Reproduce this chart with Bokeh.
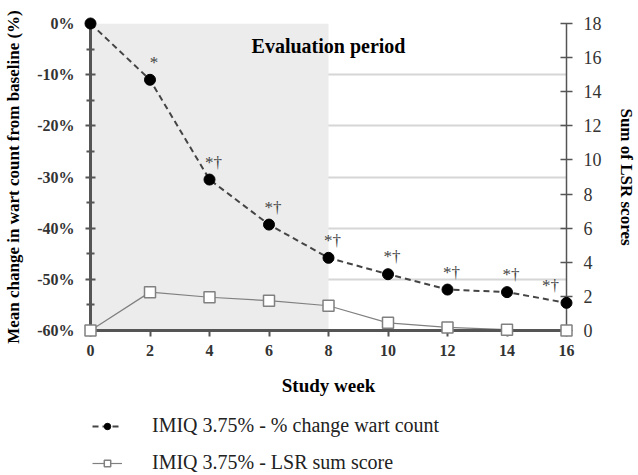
from bokeh.plotting import figure
from bokeh.layouts import column
from bokeh.models import (ColumnDataSource, Range1d, LinearAxis, BoxAnnotation, Legend,
                          LegendItem, FixedTicker, Label, PrintfTickFormatter)
from bokeh.core.properties import value
from bokeh.embed import file_html
from bokeh.resources import INLINE

# ---- data ----
weeks = [0, 2, 4, 6, 8, 10, 12, 14, 16]
wart_change_pct = [0.0, -11.0, -30.5, -39.3, -45.8, -49.0, -52.0, -52.5, -54.6]
lsr_sum_score = [0.0, 2.25, 1.95, 1.75, 1.45, 0.45, 0.18, 0.05, 0.0]
significance = ["", "*", "*\u2020", "*\u2020", "*\u2020", "*\u2020", "*\u2020", "*\u2020", "*\u2020"]
evaluation_period = [0, 8]
left_ticks = [-60, -50, -40, -30, -20, -10, 0]
left_minor = [-55, -45, -35, -25, -15, -5]
right_ticks = [0, 2, 4, 6, 8, 10, 12, 14, 16, 18]
x_ticks = [0, 2, 4, 6, 8, 10, 12, 14, 16]
series_labels = ["IMIQ 3.75% - % change wart count", "IMIQ 3.75% - LSR sum score"]

SERIF = "Liberation Serif"
W = 638
MAIN_H = 406
LEG_H = 68

p = figure(width=W, height=MAIN_H, output_backend="svg", toolbar_location=None,
           x_range=Range1d(0, 16), y_range=Range1d(-60, 0),
           min_border_left=90, min_border_right=W - 567, min_border_top=23,
           min_border_bottom=MAIN_H - 330,
           background_fill_color="white", border_fill_color="white", outline_line_color=None)
p.extra_y_ranges = {"lsr": Range1d(0, 18)}

# shaded evaluation period
p.add_layout(BoxAnnotation(left=evaluation_period[0], right=evaluation_period[1],
                           fill_color="#ececec", fill_alpha=1.0, line_color=None, level="underlay"))

# grids
p.xgrid.visible = False
p.ygrid.ticker = FixedTicker(ticks=left_ticks)
p.ygrid.grid_line_color = "#d6d6d6"
p.ygrid.grid_line_width = 2

# left axis
ya = p.yaxis[0]
ya.ticker = FixedTicker(ticks=left_ticks, minor_ticks=left_minor)
ya.formatter = PrintfTickFormatter(format="%d%%")
ya.axis_label = "Mean change in wart count from baseline (%)"
ya.axis_label_text_font = SERIF
ya.axis_label_text_font_style = "bold"
ya.axis_label_text_font_size = "17px"
ya.axis_label_text_color = "black"
ya.axis_label_standoff = 11
ya.major_label_text_font = SERIF
ya.major_label_text_font_style = "bold"
ya.major_label_text_font_size = "16px"
ya.major_label_text_color = "#333333"
ya.axis_line_width = 3
ya.axis_line_color = "#555555"
ya.major_tick_in = 5
ya.major_tick_out = 5
ya.minor_tick_in = 4
ya.minor_tick_out = 4
ya.major_tick_line_width = 2
ya.minor_tick_line_width = 2
ya.major_tick_line_color = "#555555"
ya.minor_tick_line_color = "#555555"
ya.major_label_standoff = 11

# bottom axis
xa = p.xaxis[0]
xa.ticker = FixedTicker(ticks=x_ticks)
xa.axis_label = "Study week"
xa.axis_label_text_font = SERIF
xa.axis_label_text_font_style = "bold"
xa.axis_label_text_font_size = "19px"
xa.axis_label_text_color = "black"
xa.axis_label_standoff = 16
xa.major_label_text_font = SERIF
xa.major_label_text_font_style = "bold"
xa.major_label_text_font_size = "16px"
xa.major_label_text_color = "#333333"
xa.axis_line_width = 3
xa.axis_line_color = "#555555"
xa.major_tick_in = 0
xa.major_tick_out = 6
xa.major_tick_line_width = 2
xa.major_tick_line_color = "#555555"
xa.minor_tick_line_color = None
xa.major_label_standoff = 8

# right axis
ra = LinearAxis(y_range_name="lsr", ticker=FixedTicker(ticks=right_ticks))
ra.axis_label = "Sum of LSR scores"
ra.axis_label_text_font = SERIF
ra.axis_label_text_font_style = "bold"
ra.axis_label_text_font_size = "17px"
ra.axis_label_text_color = "black"
ra.axis_label_standoff = 12
ra.major_label_text_font = SERIF
ra.major_label_text_font_size = "18px"
ra.major_label_text_color = "#333333"
ra.axis_line_width = 1.5
ra.axis_line_color = "#555555"
ra.major_tick_in = 6
ra.major_tick_out = 6
ra.major_tick_line_width = 1.5
ra.major_tick_line_color = "#555555"
ra.minor_tick_line_color = None
ra.major_label_standoff = 11
p.add_layout(ra, "right")

src = ColumnDataSource(dict(week=weeks, wart=wart_change_pct, lsr=lsr_sum_score, sig=significance))

LSR_STYLE = dict(line_color="#808080", line_width=1.2)
LSR_MARK = dict(marker="square", size=11, fill_color="white", line_color="#808080", line_width=1.5)
WART_STYLE = dict(line_color="#444444", line_width=2, line_dash="6 4")
WART_MARK = dict(marker="circle", size=11, fill_color="black", line_color="black")

# LSR series (right axis)
p.line("week", "lsr", source=src, y_range_name="lsr", **LSR_STYLE)
p.scatter("week", "lsr", source=src, y_range_name="lsr", level="overlay", **LSR_MARK)

# wart count series (left axis)
p.line("week", "wart", source=src, **WART_STYLE)
p.scatter("week", "wart", source=src, level="overlay", **WART_MARK)

# significance marks
x_offs = [4] * len(weeks)
x_offs[-1] = -16
src.data["xoff"] = x_offs
p.text("week", "wart", text="sig", source=src, x_offset="xoff", y_offset=-8,
       text_align="center", text_baseline="bottom", text_font=value(SERIF),
       text_font_size="17px", text_color="#444444", level="overlay")

p.add_layout(Label(x=8, y=0, y_offset=-22, text="Evaluation period", text_align="center",
                   text_baseline="middle", text_font=SERIF, text_font_style="bold",
                   text_font_size="20px", text_color="black"))

# ---- legend strip (same series, drawn out of view; only the legend shows) ----
lg = figure(width=W, height=LEG_H, output_backend="svg", toolbar_location=None,
            x_range=Range1d(100, 101), y_range=Range1d(100, 101),
            min_border_left=0, min_border_right=0, min_border_top=0, min_border_bottom=0,
            outline_line_color=None, background_fill_color="white", border_fill_color="white")
lg.axis.visible = False
lg.grid.visible = False
el1 = lg.line("week", "wart", source=src, **WART_STYLE)
es1 = lg.scatter("week", "wart", source=src, **WART_MARK)
el2 = lg.line("week", "lsr", source=src, **LSR_STYLE)
es2 = lg.scatter("week", "lsr", source=src, **LSR_MARK)
legend = Legend(items=[LegendItem(label=series_labels[0], renderers=[el1, es1]),
                       LegendItem(label=series_labels[1], renderers=[el2, es2])],
                location=(2, 0), orientation="vertical",
                label_text_font=SERIF, label_text_font_size="20px", label_text_color="#222222",
                glyph_width=30, glyph_height=16, label_height=16, spacing=14,
                label_standoff=30, padding=0, margin=0,
                border_line_color=None, background_fill_alpha=0)
lg.add_layout(legend, "center")

layout = column(p, lg, spacing=0)
open("out.html", "w").write(file_html(layout, INLINE))
